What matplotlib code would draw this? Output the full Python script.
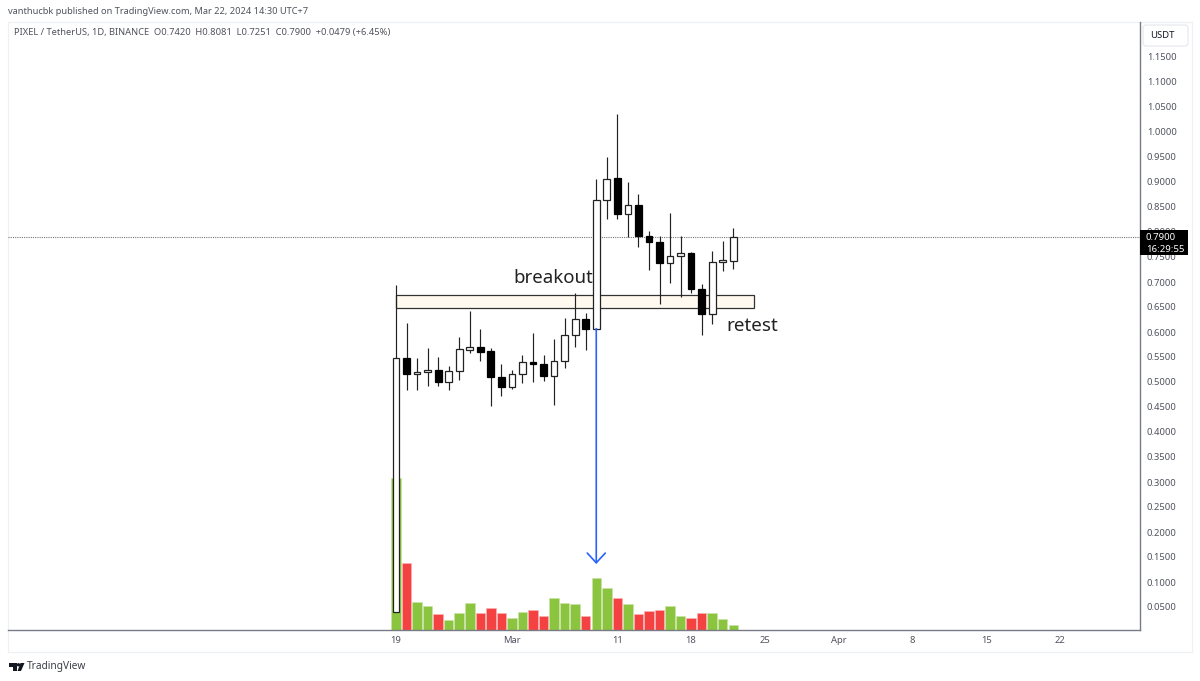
import matplotlib
matplotlib.use("Agg")
import matplotlib.pyplot as plt
from matplotlib.patches import Rectangle, FancyBboxPatch, Polygon, Circle

FONT = "Noto Sans"
plt.rcParams["font.family"] = FONT

days = list(range(33))
opens = [.0407,.5487,.5153,.5193,.5247,.5007,.5213,.5640,.5693,.5620,.5093,.4893,.5153,.5407,.5367,.5127,.5420,.5940,
         .6260,.6067,.8633,.9087,.8367,.8547,.7927,.7800,.7380,.7513,.7587,.6860,.6360,.7393,.7420]
closes = [.5487,.5153,.5193,.5247,.5007,.5213,.5653,.5693,.5607,.5093,.4900,.5160,.5407,.5367,.5127,.5420,.5940,.6267,
          .6067,.8633,.9067,.8367,.8547,.7927,.7800,.7380,.7513,.7587,.6860,.6360,.7393,.7433,.7900]
highs = [.695,.6187,.5487,.5673,.5507,.5313,.5893,.6413,.6053,.5673,.5353,.5247,.554,.5973,.554,.586,.628,.6787,
         .6373,.9053,.9507,1.0367,.9007,.876,.8027,.7927,.8387,.792,.7607,.696,.7627,.782,.8081]
lows = [.0407,.4833,.4833,.4913,.4913,.4833,.5047,.5573,.5427,.452,.4713,.4867,.4987,.5007,.5027,.454,.5287,.5707,
        .564,.6067,.8253,.8267,.7907,.7707,.7247,.6553,.6987,.6693,.6787,.5947,.616,.7213,.7251]
volumes = [152,67,28,24,16,10,17,27,17,22,17,12,18,20,14,32,27,26,14,52,42,32,26,16,19,20,24,14,12,17,17,11,5]
vol_up = [1,0,1,1,0,1,1,1,0,0,0,1,1,0,0,1,1,1,0,1,1,0,1,0,0,0,1,1,0,0,1,1,1]

price_ticks = [0.05,0.10,0.15,0.20,0.25,0.30,0.35,0.40,0.45,0.50,0.55,0.60,0.65,0.70,0.75,0.80,
               0.85,0.90,0.95,1.00,1.05,1.10,1.15]
date_ticks = [0,11,21,28,35,42,49,56,63]
date_labels = ["19","Mar","11","18","25","Apr","8","15","22"]
last_price = 0.79
zone_low, zone_high = 0.648, 0.674
zone_start, zone_end = 0, 34
arrow_day, arrow_from, arrow_to = 19, 0.6067, 0.136

W, H = 1200, 681
fig = plt.figure(figsize=(W/100, H/100), dpi=100, facecolor="white")
L, R, T, B = 8, 1140, 22, 630
pos = [L/W, 1-B/H, (R-L)/W, (B-T)/H]
xlim = ((L-396)/10.54, (R-396)/10.54)

# overlay in pixel coordinates for page furniture
page = fig.add_axes([0, 0, 1, 1], zorder=0)
page.set_xlim(0, W); page.set_ylim(H, 0); page.axis("off")
page.add_patch(Rectangle((8, 22), 1184, 630, fc="white", ec="#eef0f5", lw=0.9))

# volume
axv = fig.add_axes(pos, zorder=1)
axv.patch.set_visible(False)
axv.set_xlim(xlim); axv.set_ylim(0, B-T)
axv.bar(days, volumes, width=0.9,
        color=["#8bc540" if u else "#f44242" for u in vol_up],
        edgecolor=["#c9e3a5" if u else "#fbb0b0" for u in vol_up], linewidth=0.5)
axv.axis("off")

# price
ax = fig.add_axes(pos, zorder=2)
ax.patch.set_visible(False)
ax.set_xlim(xlim)
ax.set_ylim((632-B)/500, (632-T)/500)
for s in ("top", "left"):
    ax.spines[s].set_visible(False)
for s in ("bottom", "right"):
    ax.spines[s].set_color("#787b86"); ax.spines[s].set_linewidth(1.0)
ax.yaxis.tick_right()
ax.set_yticks(price_ticks, [f"{p:.4f}" for p in price_ticks])
ax.set_xticks(date_ticks, date_labels)
ax.tick_params(axis="y", length=0, pad=5, labelsize=6.8, labelcolor="#50535e")
ax.tick_params(axis="x", length=0, pad=4.5, labelsize=6.8, labelcolor="#50535e")

ax.axhline(last_price, color="#777777", lw=0.8, ls=(0, (1, 1)), zorder=1)
ax.add_patch(Rectangle((zone_start, zone_low), zone_end-zone_start, zone_high-zone_low,
                       fc="#fff9f0", ec="#333333", lw=0.9, zorder=2))

ax.vlines(days, lows, highs, color="#222222", lw=0.85, zorder=3)
for d, o, c in zip(days, opens, closes):
    up = c >= o
    ax.add_patch(Rectangle((d-0.32, min(o, c)), 0.64, abs(c-o),
                           fc="white" if up else "black", ec="#222222" if up else "black",
                           lw=0.9, zorder=4))

ax.annotate("", xy=(arrow_day, arrow_to), xytext=(arrow_day, arrow_from), zorder=5,
            arrowprops=dict(arrowstyle="->,head_length=0.7,head_width=0.65", color="#2962ff",
                            lw=1.2, shrinkA=0, shrinkB=0))

ax.text((553-396)/10.54, (632-278)/500, "breakout", fontsize=13.4, color="#222222",
        ha="center", va="center", zorder=6)
ax.text((752-396)/10.54, (632-326)/500, "retest", fontsize=13.6, color="#222222",
        ha="center", va="center", zorder=6)

# furniture on top
top = fig.add_axes([0, 0, 1, 1], zorder=3)
top.set_xlim(0, W); top.set_ylim(H, 0); top.axis("off")
top.text(8, 12, "vanthucbk published on TradingView.com, Mar 22, 2024 14:30 UTC+7",
         fontsize=6.65, color="#50535e", va="center")
top.text(14, 33, "PIXEL / TetherUS, 1D, BINANCE  O0.7420  H0.8081  L0.7251  C0.7900  +0.0479 (+6.45%)",
         fontsize=6.72, color="#50535e", va="center")
top.add_patch(FancyBboxPatch((1144, 26), 43, 19, boxstyle="round,pad=1,rounding_size=3",
                             fc="white", ec="#e6e9f0", lw=0.9))
top.text(1162, 36, "USDT", fontsize=6.8, color="#131722", ha="center", va="center")
top.add_patch(Rectangle((1140, 230), 48, 25, fc="black", ec="none"))
top.text(1146, 237, "0.7900", fontsize=6.9, color="white", fontweight="bold", va="center")
top.text(1146, 249, "16:29:55", fontsize=6.9, color="white", va="center")
# TradingView mark
top.add_patch(Polygon([(9, 663), (17, 663), (17, 671), (13, 671), (13, 666.5), (9, 666.5)], fc="#131722", ec="none"))
top.add_patch(Circle((18.5, 664.8), 1.7, fc="#131722", ec="none"))
top.add_patch(Polygon([(20.5, 663), (24.5, 663), (21, 671), (17.5, 671)], fc="#131722", ec="none"))
top.text(27, 667, "TradingView", fontsize=7.3, color="#3b3e48", va="center")

fig.savefig("out.png", dpi=100)
